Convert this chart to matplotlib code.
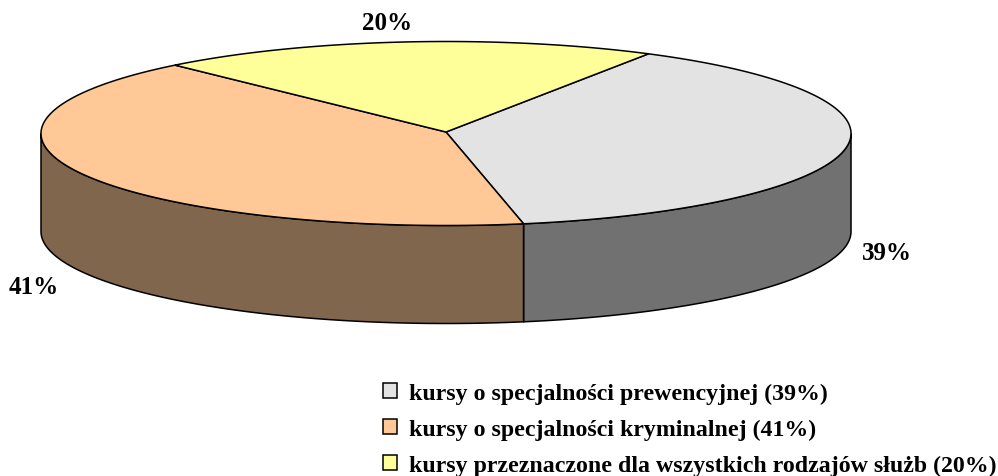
import numpy as np
import matplotlib
matplotlib.use("Agg")
import matplotlib.pyplot as plt

values = [38.6, 41.4, 20.0]
labels = ["kursy o specjalności prewencyjnej (39%)",
          "kursy o specjalności kryminalnej (41%)",
          "kursy przeznaczone dla wszystkich rodzajów służb (20%)"]
pct_labels = ["39%", "41%", "20%"]
top_colors = ["#E3E3E3", "#FFC896", "#FFFF99"]
side_colors = ["#717171", "#80664D", "#80804D"]
label_pos = [(887, 254), (34, 288), (387, 24)]

cx, cy = 446, 134.5
vertex_y = 133
rx, ry = 405, 92
depth = 98
start = 60

plt.rcParams["font.family"] = ["Liberation Serif", "DejaVu Serif"]
plt.rcParams["font.weight"] = "bold"
plt.rcParams["font.size"] = 17.2

fig = plt.figure(figsize=(9.98, 4.77), dpi=100)
ax = fig.add_axes([0, 0, 1, 1])
ax.set_xlim(0, 998)
ax.set_ylim(477, 0)
ax.axis("off")


def rim(a0, a1, dy=0):
    t = np.radians(np.linspace(a0, a1, 200))
    return cx + rx * np.cos(t), cy - ry * np.sin(t) + dy


ang = start
handles = []
for v, top, side, lab in zip(values, top_colors, side_colors, labels):
    a0, a1 = ang, ang - v * 3.6
    ang = a1
    # side wall, only the part facing the viewer
    s0, s1 = min(a0, 0), max(a1, -180)
    if s0 > s1:
        x, y = rim(s0, s1)
        x2, y2 = rim(s1, s0, depth)
        ax.fill(np.r_[x, x2], np.r_[y, y2], fc=side, ec="black", lw=1.1, zorder=2)
    x, y = rim(a0, a1)
    h = ax.fill(np.r_[cx, x], np.r_[vertex_y, y], fc=top, ec="black", lw=1.1, zorder=3, label=lab)[0]
    handles.append(h)

for (px, py), t in zip(label_pos, pct_labels):
    ax.text(px, py, t, ha="center", va="center", color="black", fontsize=18)

ax.legend(handles=handles, loc="lower right", bbox_to_anchor=(1.003, -0.01), frameon=False,
          handlelength=0.59, handleheight=0.59, handletextpad=0.5, labelspacing=0.62,
          borderaxespad=0.0, borderpad=0.2, labelcolor="black")

fig.savefig("out.png", dpi=100)
